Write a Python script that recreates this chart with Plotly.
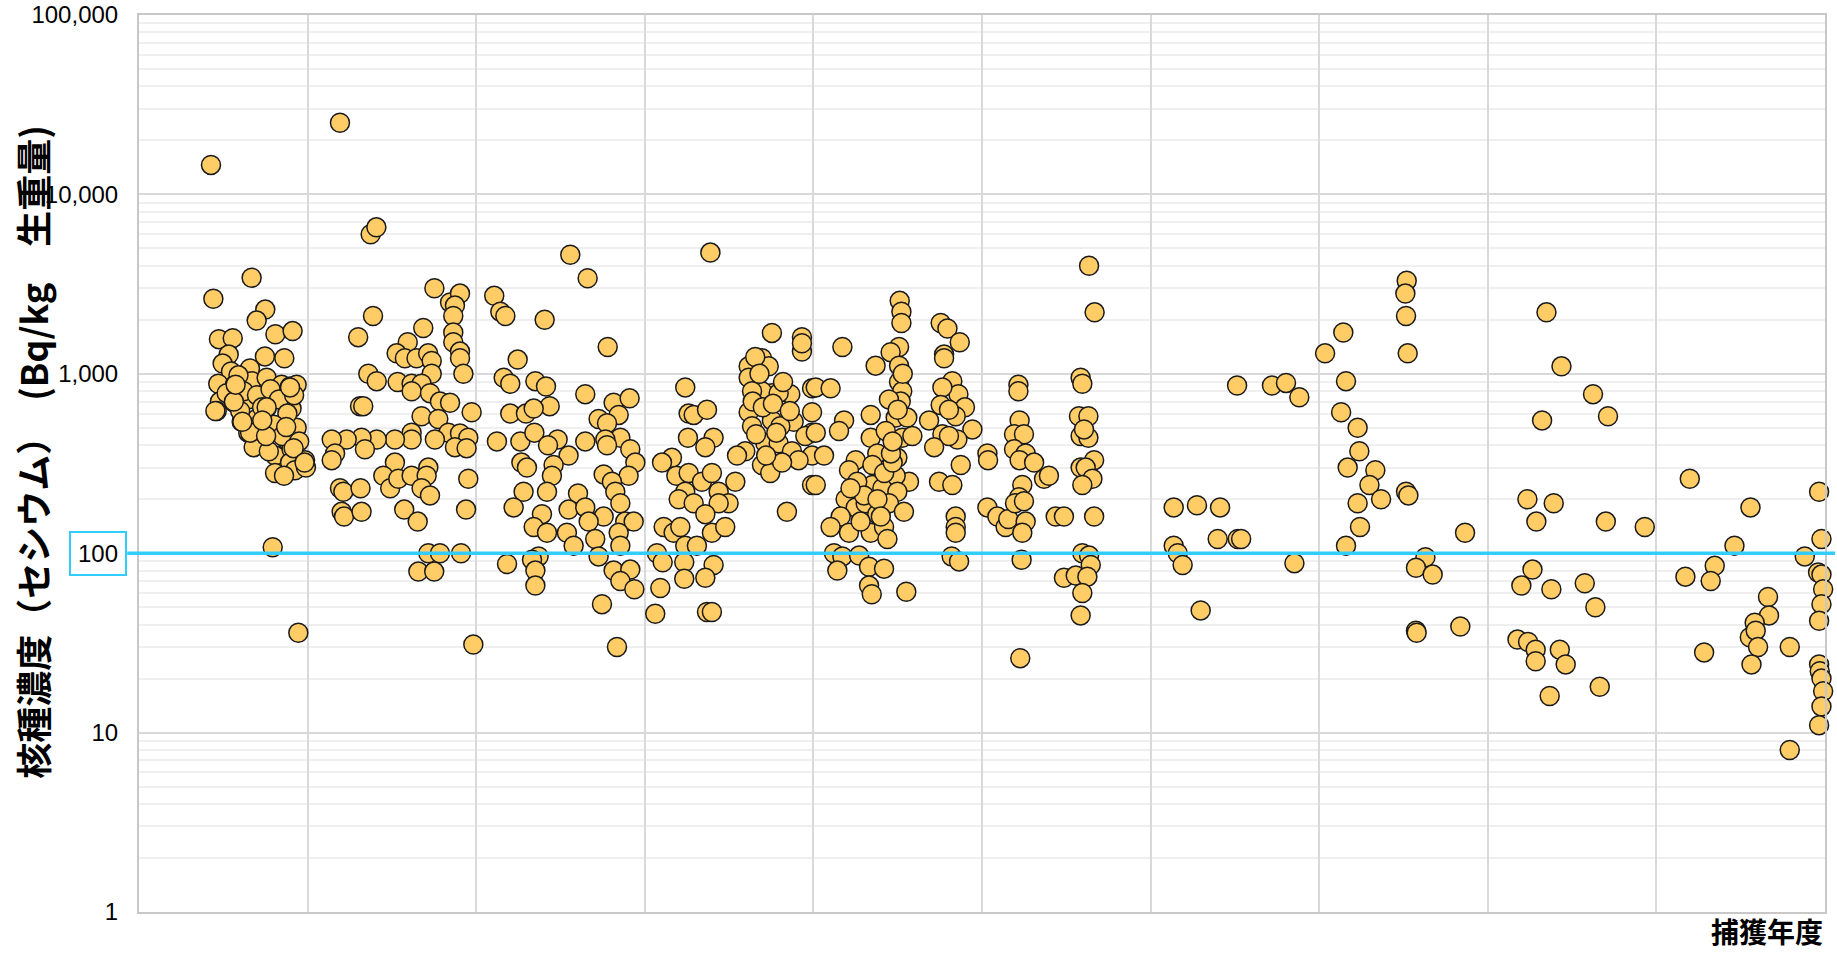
import plotly.graph_objects as go

# ---- data: position within fiscal-year interval (0-1) and Cs concentration (Bq/kg) ----
y0_off = [.427,.441,.668,.749,.698,.809,.911,.474,.556,.532,.747,.862,.496,.546,.658,.47,.569,.668,.757,.846,
          .896,.935,.48,.565,.648,.757,.461,.905,.609,.698,.747,.648,.717,.757,.866,.935,.875,.807,.905,.985,
          .896,.807,.925,.793,.945,.59,.62,.70,.78,.83,.88,.92,.52,.60,.73,.80,.85,.95,.68,.77,.86,.99,
          .896,.757,.453,.659,.754,.873,.917,.982,.613,.563,.573,.731]
y0_val = [14600,2620,3430,2280,1980,1660,1730,1560,1580,1280,1250,1220,1140,1030,1070,880,870,910,950,870,
          850,870,700,690,720,640,620,640,540,560,550,470,430,460,510,500,430,350,380,330,
          320,280,290,108,36,980,800,760,820,720,600,760,780,620,650,520,450,420,390,370,270,300,
          840,650,620,470,450,505,385,320,540,700,870,550]

y1_off = [.192,.374,.408,.752,.845,.904,.874,.864,.864,.864,.904,.904,.924,.388,.30,.686,.594,.528,.577,.646,
          .715,.736,.736,.36,.41,.534,.617,.676,.617,.726,.785,.845,.676,.775,.973,.311,.33,.835,.904,.953,
          .874,.943,.617,.617,.755,.518,.41,.32,.232,.143,.34,.163,.143,.518,.449,.49,.538,.617,.716,.706,
          .676,.726,.953,.192,.212,.314,.573,.653,.202,.216,.32,.94,.983,.716,.785,.91,.657,.751]
y1_val = [25100,6000,6550,3000,2500,2800,2400,2100,1700,1500,1330,1220,1000,2100,1600,1800,1500,1300,1220,1220,
          1300,1180,1000,1000,910,900,880,880,800,780,700,690,580,560,610,660,660,470,465,440,
          390,385,470,430,430,430,430,440,430,430,380,360,330,320,270,230,260,270,300,270,
          230,210,260,230,220,230,175,150,170,160,170,175,31,100,100,100,79,79]

y2_off = [.107,.143,.173,.558,.661,.406,.78,.246,.163,.202,.351,.414,.647,.436,.202,.295,.341,.815,.91,.726,
          .845,.776,.855,.123,.262,.345,.483,.426,.647,.766,.776,.548,.268,.301,.459,.449,.756,.914,.944,.904,
          .281,.42,.604,.805,.825,.222,.548,.647,.855,.39,.756,.667,.884,.934,.341,.42,.538,.706,.845,.578,
          .855,.37,.331,.726,.183,.351,.351,.815,.914,.855,.938,.746,.835]
y2_val = [2720,2220,2100,4610,3410,2000,1410,1200,950,880,910,850,770,660,600,600,640,690,730,560,
          590,530,440,420,420,470,430,400,420,430,400,350,320,300,310,270,275,380,320,270,
          220,220,215,250,220,180,175,180,190,165,160,150,150,150,140,130,130,120,130,110,
          110,96,92,96,87,80,66,80,81,70,63,52,30]

y3_off = [.389,.24,.754,.932,.932,.932,.695,.735,.616,.655,.616,.754,.695,.636,.863,.794,.616,.636,.754,.883,
          .992,.992,.992,.992,.992,.804,.715,.794,.952,.596,.547,.873,.912,.695,.744,.814,.843,.26,.29,.369,
          .256,.408,.359,.161,.102,.187,.26,.339,.398,.537,.24,.201,.29,.438,.497,.438,.359,.398,.477,.112,
          .171,.211,.24,.309,.072,.106,.234,.408,.234,.359,.092,.062,.369,.398,
          .64,.70,.76,.82,.68,.86,.66,.78,.72]
y3_val = [4740,840,1690,1600,1330,1480,1220,1100,1100,1240,950,780,800,800,770,780,610,510,550,540,
          830,610,470,350,240,510,410,410,450,370,350,370,330,310,280,320,170,600,590,630,
          440,440,390,340,320,270,280,250,280,250,220,200,190,220,190,190,165,130,140,140,
          130,140,110,110,100,89,89,86,72,73,64,46,47,47,
          700,650,680,900,1000,620,460,470,350]

y4_off = [.512,.522,.522,.172,.369,.508,.458,.508,.508,.527,.518,.448,.488,.557,.34,.182,.152,.014,.102,.014,
          .063,.014,.34,.527,.587,.429,.379,.251,.498,.35,.211,.567,.488,.35,.409,.498,.191,.251,.31,.448,
          .537,.379,.162,.102,.211,.34,.419,.439,.122,.172,.271,.33,.419,.142,.33,.346,.551,.755,.795,.868,
          .775,.775,.824,.86,.765,.899,.844,.755,.804,.943,.686,.765,.854,.804,.716,.874,.745,.824,.844,.844,
          .844,.82,.864,.26,.30,.38,.42,.47,.22,.28,.40,.46,.53,.50,.47]
y4_val = [2550,2220,1920,1410,1110,1410,1320,1110,900,800,700,720,570,570,590,550,480,840,830,470,
          350,240,440,440,450,480,360,330,340,310,290,250,270,240,230,220,200,180,190,190,
          170,165,160,140,130,130,140,120,100,96,97,84,82,80,66,59,61,1920,1790,1500,
          1280,1220,910,770,840,650,580,670,630,490,550,460,430,450,390,310,250,240,160,140,
          130,96,90,250,210,200,280,320,230,150,160,360,1000,630,420]

y5_off = [.032,.036,.032,.091,.14,.156,.216,.216,.223,.19,.249,.19,.259,.223,.309,.368,.397,.239,.22,.196,
          .249,.259,.239,.235,.227,.585,.595,.575,.631,.585,.631,.605,.665,.585,.615,.655,.595,.665,.437,.486,
          .595,.635,.645,.486,.556,.625,.595,.585,.635,.668]
y5_val = [360,330,180,160,140,155,870,800,550,460,460,380,360,330,320,260,270,240,205,190,
          195,150,130,92,26,950,880,580,580,450,440,490,330,300,300,260,240,160,160,160,
          100,97,86,73,75,74,60,45,4000,2200]

y6_off = [.137,.275,.412,.137,.161,.19,.398,.517,.537,.297,.513,.72,.803,.882,.853]
y6_val = [180,185,180,110,100,86,120,120,120,48,860,860,890,740,88]

y7_off = [.035,.143,.159,.13,.228,.238,.169,.333,.298,.367,.228,.242,.159,.519,.511,.515,.525,.515,.529,.63,
          .574,.673,.574,.578,.837,.865]
y7_val = [1300,1700,910,610,500,370,300,290,240,200,190,140,110,3300,2800,2100,1300,220,210,95,
          83,76,37,36,39,130]

y8_off = [.348,.437,.624,.713,.322,.235,.391,.288,.70,.931,.265,.199,.377,.575,.638,.176,.239,.284,.284,.427,
          .462,.367,.664]
y8_val = [2200,1100,770,580,550,200,190,150,150,140,81,66,63,68,50,33,32,29,25,29,
          24,16,18]

y9_off = [.198,.558,.463,.346,.172,.322,.88,.662,.668,.583,.554,.589,.603,.791,.564,.283,.791,.965,.979,.959,
          .979,.989,.979,.965,.965,.969,.979,.989,.979,.965]
y9_val = [260,180,110,85,74,70,96,57,45,41,34,37,30,30,24,28,8,220,120,78,
          76,63,52,42,24,22,20,17,14,11]

year_offsets = [y0_off, y1_off, y2_off, y3_off, y4_off, y5_off, y6_off, y7_off, y8_off, y9_off]
year_values = [y0_val, y1_val, y2_val, y3_val, y4_val, y5_val, y6_val, y7_val, y8_val, y9_val]

y_tick_vals = [1, 10, 100, 1000, 10000, 100000]
y_tick_text = ["1", "10", "", "1,000", "10,000", "100,000"]
limit_value = 100
y_title = "核種濃度（セシウム）　(Bq/kg　生重量)"
x_title = "捕獲年度"

xs, ys = [], []
for i, (offs, vals) in enumerate(zip(year_offsets, year_values)):
    xs += [i + o for o in offs]
    ys += vals

fig = go.Figure()
fig.add_trace(go.Scatter(
    x=xs, y=ys, mode="markers", cliponaxis=False,
    marker=dict(size=19, color="#FFCC66", line=dict(color="#1a1a1a", width=1.5)),
    hoverinfo="x+y", showlegend=False))

minor_vals = [m * 10 ** d for d in range(5) for m in range(2, 10)]

fig.update_layout(
    width=1837, height=954,
    margin=dict(l=139, r=12, t=15, b=42, autoexpand=False),
    paper_bgcolor="white", plot_bgcolor="white",
    font=dict(family="Liberation Sans, Arial, sans-serif", color="black"),
    xaxis=dict(range=[0, 10], dtick=1, tick0=0, showticklabels=False, automargin=False,
               showgrid=True, gridcolor="#d9d9d9", gridwidth=2,
               showline=True, linecolor="#c8c8c8", linewidth=2, mirror=True,
               zeroline=False, ticks=""),
    yaxis=dict(type="log", range=[0, 5], automargin=False,
               tickmode="array", tickvals=y_tick_vals, ticktext=y_tick_text,
               tickfont=dict(size=24, color="black"), ticklabelstandoff=14,
               showgrid=True, gridcolor="#d9d9d9", gridwidth=2,
               minor=dict(tickmode="array", tickvals=minor_vals, showgrid=True,
                          gridcolor="#efefef", gridwidth=2, ticks=""),
               showline=True, linecolor="#c8c8c8", linewidth=2, mirror=True,
               zeroline=False, ticks=""),
)

# reference line at 100 Bq/kg
fig.add_shape(type="line", xref="paper", yref="y", x0=-0.007, x1=1.006,
              y0=limit_value, y1=limit_value, line=dict(color="#33ccff", width=3.5),
              layer="above")
fig.add_annotation(xref="paper", yref="y", x=-0.007, y=2, xanchor="right",
                   yanchor="middle", text="100", showarrow=False,
                   font=dict(size=24, color="black"),
                   bordercolor="#33ccff", borderwidth=2, borderpad=7,
                   bgcolor="white")

fig.add_annotation(xref="paper", yref="paper", x=-0.0635, y=0.513, xanchor="center",
                   yanchor="middle", textangle=-90, text="<b>" + y_title + "</b>",
                   showarrow=False,
                   font=dict(size=36, color="black", family="Noto Sans CJK JP"))
fig.add_annotation(xref="paper", yref="paper", x=1.0, y=0, xanchor="right",
                   yanchor="bottom", yshift=-41, text="<b>" + x_title + "</b>",
                   showarrow=False,
                   font=dict(size=28, color="black", family="Noto Sans CJK JP"))

fig.write_html("out.html", config={"displayModeBar": False},
               post_script="document.body.style.margin='0';document.body.style.overflow='hidden';")
